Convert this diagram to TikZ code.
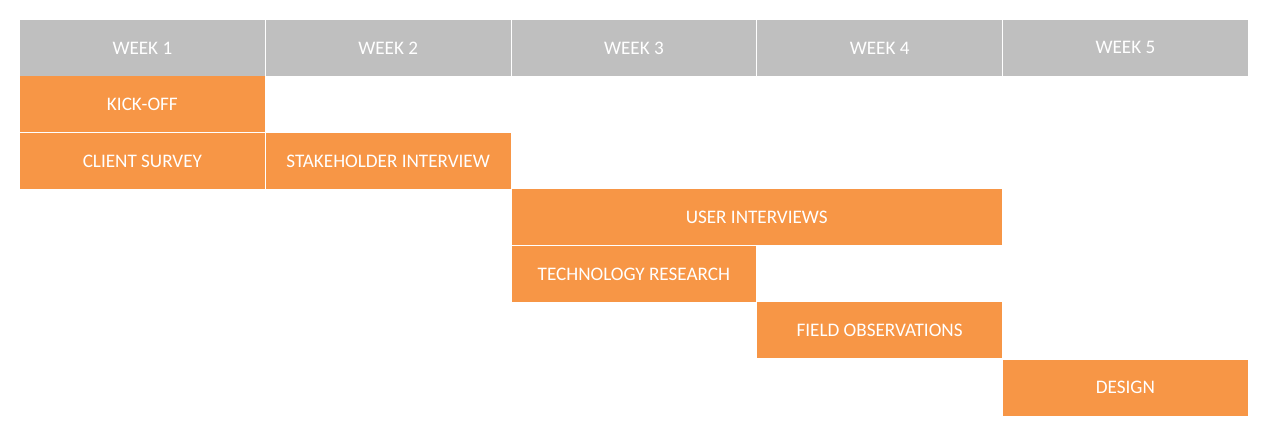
\documentclass[tikz,border=0pt]{standalone}
\usepackage{fontspec}
\setmainfont{Carlito}
\definecolor{headgray}{HTML}{BFBFBF}
\definecolor{taskorange}{HTML}{F79646}
\tikzset{
  cell/.style={anchor=north west, inner sep=0pt, outer sep=0pt,
    minimum height=55.8*0.02cm, text=white,
    font=\fontsize{10.9pt}{13pt}\selectfont},
  head/.style={cell, fill=headgray},
  task/.style={cell, fill=taskorange},
  span/.style={minimum width={(#1*245.75-1)*0.02cm}}
}
\begin{document}
\begin{tikzpicture}[x=0.02cm, y=-0.02cm]
\useasboundingbox (0,0) rectangle (1268,438);
% header row: one grey cell per week
\node[head, span=1] (w1) at (20,20) {WEEK 1};
\node[head, span=1] (w2) at (265.75,20) {WEEK 2};
\node[head, span=1] (w3) at (511.5,20) {WEEK 3};
\node[head, span=1] (w4) at (757.25,20) {WEEK 4};
\node[head, span=1] (w5) at (1003,20) {WEEK 5};
% task bars, one row each
\node[task, span=1] (kick) at (20,76.5) {KICK-OFF};
\node[task, span=1] (survey) at (20,133) {CLIENT SURVEY};
\node[task, span=1] (stake) at (265.75,133) {STAKEHOLDER INTERVIEW};
\node[task, span=2] (user) at (511.5,189.3) {USER INTERVIEWS};
\node[task, span=1] (tech) at (511.5,246) {TECHNOLOGY RESEARCH};
\node[task, span=1] (field) at (757.25,302.4) {FIELD OBSERVATIONS};
\node[task, span=1] (design) at (1003,359.8) {DESIGN};
\end{tikzpicture}
\end{document}
